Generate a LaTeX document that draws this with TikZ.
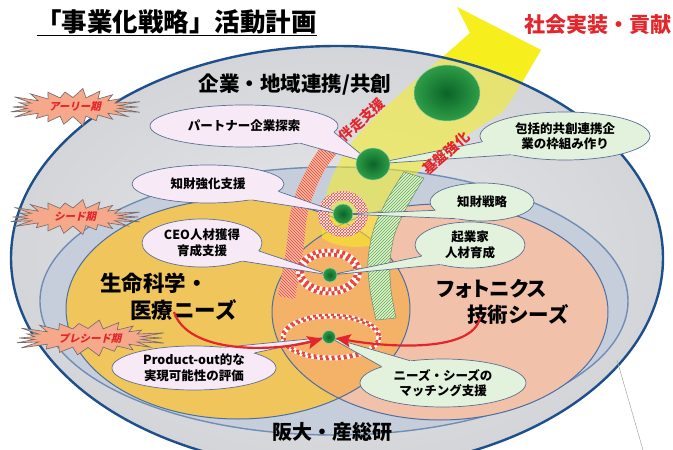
\documentclass[tikz,border=0pt]{standalone}
\usepackage{fontspec}
\setmainfont{Noto Sans CJK JP}
\newfontfamily\jpsl[FakeSlant=0.22]{Noto Sans CJK JP}
\newfontfamily\jppalt[RawFeature=+palt]{Noto Sans CJK JP}
\usetikzlibrary{shapes.geometric,patterns,calc,arrows.meta}
\definecolor{outerin}{HTML}{E7E8EB}
\definecolor{outerout}{HTML}{D3D5D9}
\definecolor{outerline}{HTML}{1C4F8C}
\definecolor{bandfill}{HTML}{C6CEDB}
\definecolor{bandline}{HTML}{6F8DB5}
\definecolor{lifefill}{HTML}{F0C65C}
\definecolor{photofill}{HTML}{F2C1AA}
\definecolor{overlapfill}{HTML}{F4B168}
\definecolor{ellline}{HTML}{4A6FA3}
\definecolor{arrowyellow}{HTML}{F7EE1E}
\definecolor{pinkfill}{HTML}{F7EAF6}
\definecolor{greenfill}{HTML}{E3F2DC}
\definecolor{bubline}{HTML}{5B6F96}
\definecolor{burstfill}{HTML}{F5A88A}
\definecolor{burstline}{HTML}{6E6A70}
\definecolor{redtext}{HTML}{E2262B}
\definecolor{ringred}{HTML}{E8473A}
\definecolor{dotgreen}{HTML}{2E9E48}
\definecolor{dotdark}{HTML}{0B6428}
\definecolor{dotline}{HTML}{9FD0A8}
\definecolor{stripred}{HTML}{F6B7A3}
\definecolor{hatchred}{HTML}{E24A36}
\definecolor{stripgreen}{HTML}{E1F2D2}
\definecolor{hatchgreen}{HTML}{5DAA48}
\definecolor{stripgline}{HTML}{6D8C70}
\newcommand{\calltail}[5]{% node, angle1, angle2, tip, fill colour
  \fill[#5] ($(#1.#2)!-4pt!(#4)$) -- (#4) -- ($(#1.#3)!-4pt!(#4)$) -- cycle;
  \draw[taildraw] (#1.#2) -- (#4) -- (#1.#3);
}
% starburst outline: cx, cy, outer rx, outer ry, inner rx, inner ry
\newcommand{\burstbg}[6]{%
  \filldraw[burstbg] ({#1+#3}, #2)
    \foreach \k in {0,...,21} {
      -- ({#1+(#5)*cos(\k*16.3636+8.1818)}, {#2+(#6)*sin(\k*16.3636+8.1818)})
      -- ({#1+(#3)*(0.86+0.07*mod(\k*7+3,4))*cos((\k+1)*16.3636)}, {#2+(#4)*(0.86+0.07*mod(\k*7+3,4))*sin((\k+1)*16.3636)})
    } -- cycle;
}
\def\yarrowpath{plot[smooth, tension=0.6] coordinates {(322,238) (324,205) (333,175) (350,145) (375,117) (410,85) (445,55) (470,33)} -- (457,7) -- (541,50) -- (514,96) -- plot[smooth, tension=0.6] coordinates {(503,112) (475,130) (445,150) (420,170) (403,195) (394,220) (390,238)} .. controls (372,250) and (340,250) .. (322,238) -- cycle}
\begin{document}
\begin{tikzpicture}[x=1pt,y=-1pt,
  bubpink/.style={ellipse, draw=bubline, line width=0.7pt, fill=pinkfill, inner sep=0pt, align=center, font=\fontsize{12.5}{15.5}\selectfont\bfseries},
  bubgreen/.style={bubpink, fill=greenfill},
  taildraw/.style={draw=bubline, line width=0.7pt},
  burstbg/.style={fill=burstfill, draw=burstline, line width=0.6pt, line join=miter},
  bursttext/.style={inner sep=0pt, text=redtext, font=\jpsl\bfseries\fontsize{10.5}{12}\selectfont},
  gdot/.style={circle, inner sep=0pt, inner color=dotdark, outer color=dotgreen, draw=dotline, line width=0.5pt},
  redarrow/.style={draw=redtext, line width=2.2pt, -{Stealth[length=15pt,width=13pt,inset=3pt]}},
  bigtext/.style={font=\fontsize{21.5}{24}\selectfont\bfseries, inner sep=0pt},
  alongtext/.style={text=redtext, font=\fontsize{14}{17}\selectfont\bfseries, inner sep=0pt},
]
\useasboundingbox (0,0) rectangle (673,450);
\fill[white] (0,0) rectangle (673,450);

% full yellow arrow (visible outside the big ellipse)
\fill[arrowyellow] \yarrowpath;

% outer ellipse
\shade[inner color=outerin, outer color=outerout] (337,258) ellipse [x radius=326, y radius=212];
% band
\fill[bandfill] (334,301) ellipse [x radius=294, y radius=134];
\draw[bandline, line width=1.4pt] (334,301) ellipse [x radius=294, y radius=134];
% inner ellipses
\fill[lifefill] (238,309) ellipse [x radius=172, y radius=110];
\fill[photofill] (440,312) ellipse [x radius=168, y radius=108];
\begin{scope}
  \clip (238,309) ellipse [x radius=172, y radius=110];
  \fill[overlapfill] (440,312) ellipse [x radius=168, y radius=108];
\end{scope}
\draw[ellline, line width=1pt] (238,309) ellipse [x radius=172, y radius=110];
\draw[ellline, line width=1pt] (440,312) ellipse [x radius=168, y radius=108];

% translucent arrow over the ellipses
\fill[arrowyellow, opacity=0.55] \yarrowpath;
% outer border
\draw[outerline, line width=2.4pt] (337,258) ellipse [x radius=326, y radius=212];
\coordinate (strayA) at (617,360);
\coordinate (strayB) at (643,450);
\draw[gray!70, line width=0.5pt] (strayA) -- (strayB);

% hatched strips
\path[preaction={fill=stripred}, pattern=north west lines, pattern color=hatchred]
  plot[smooth] coordinates {(325,140) (309,165) (297,190) (290,215) (286,250) (278,296)}
  -- plot[smooth] coordinates {(295,299) (303,252) (307,217) (314,193) (326,168) (342,147)} -- cycle;
\path[preaction={fill=stripgreen}, pattern=north east lines, pattern color=hatchgreen, draw=stripgline, line width=0.5pt]
  plot[smooth] coordinates {(404,172) (388,198) (374,228) (368,260) (370,290) (376,320)}
  -- plot[smooth] coordinates {(396,318) (391,290) (390,262) (395,233) (408,205) (424,178)} -- cycle;

% ring around IP dot
\path[fill=ringred, even odd rule] (343,214) ellipse [x radius=25, y radius=23] (343,214) circle [radius=14];
\path[pattern=crosshatch, pattern color=white, even odd rule] (343,214) ellipse [x radius=25, y radius=23] (343,214) circle [radius=14];
% checkered ring (middle)
\draw[white, line width=8pt] (329,272) ellipse [x radius=29, y radius=19.5];
\draw[ringred, line width=4pt, dash pattern=on 3pt off 3pt] (329,272) ellipse [x radius=31, y radius=21.5];
\draw[ringred, line width=4pt, dash pattern=on 3pt off 3pt, dash phase=3pt] (329,272) ellipse [x radius=27, y radius=17.5];
% dashed ring (bottom)
\draw[white, line width=5pt] (331,337) ellipse [x radius=48, y radius=21];
\draw[ringred, line width=2.5pt, dash pattern=on 3pt off 3pt] (331,337) ellipse [x radius=49.2, y radius=22.2];
\draw[ringred, line width=2.5pt, dash pattern=on 3pt off 3pt, dash phase=3pt] (331,337) ellipse [x radius=46.8, y radius=19.8];

% texts of regions
\node[font=\fontsize{25.5}{30}\selectfont\bfseries, inner sep=0pt, anchor=west] (title) at (36,22) {「事業化戦略」活動計画};
\draw[line width=1.6pt] ($(title.base west)+(1,4)$) -- ($(title.base east)+(0,4)$);
\node[font=\fontsize{21}{24}\selectfont\bfseries, text=redtext, inner sep=0pt] (impl) at (598,25) {社会実装・貢献};
\node[font=\fontsize{20.5}{24}\selectfont\bfseries, inner sep=0pt] (corp) at (295,85) {企業・地域連携/共創};
\node[font=\fontsize{20}{24}\selectfont\bfseries, inner sep=0pt] (univ) at (332,432) {阪大・産総研};
\node[bigtext, anchor=west] (life1) at (100,283) {生命科学・};
\node[bigtext, anchor=west] (life2) at (130,310) {医療ニーズ};
\node[bigtext, anchor=west, font=\jppalt\fontsize{20.5}{24}\selectfont\bfseries] (photo1) at (437,289) {フォトニクス};
\node[bigtext, anchor=west, font=\fontsize{20.5}{24}\selectfont\bfseries] (photo2) at (467,314) {技術シーズ};

% bubbles
\node[bubpink, minimum width=188pt, minimum height=42pt] (bPartner) at (244,126) {パートナー企業探索};
\node[bubpink, minimum width=152pt, minimum height=38pt] (bIPsup) at (208,184) {知財強化支援};
\node[bubpink, minimum width=120pt, minimum height=48pt] (bCEO) at (202,243) {CEO人材獲得\\育成支援};
\node[bubpink, minimum width=164pt, minimum height=44pt] (bProd) at (194,368) {Product-out的な\\実現可能性の評価};
\node[bubgreen, minimum width=170pt, minimum height=48pt] (bFrame) at (565,136) {包括的共創連携企\\業の枠組み作り};
\node[bubgreen, minimum width=104pt, minimum height=38pt] (bIPstr) at (482,202) {知財戦略};
\node[bubgreen, minimum width=110pt, minimum height=46pt] (bEnt) at (470,245) {起業家\\人材育成};
\node[bubgreen, minimum width=166pt, minimum height=48pt] (bMatch) at (443,383) {ニーズ・シーズの\\マッチング支援};

% dot positions
\coordinate (pBig) at (447,93);
\coordinate (pMed) at (373,164);
\coordinate (pIP) at (343,214);
\coordinate (pHR) at (330,275);
\coordinate (pBot) at (329,337);

% tails
\calltail{bPartner}{-4}{-17}{pMed}{pinkfill}
\calltail{bIPsup}{-6}{-20}{pIP}{pinkfill}
\calltail{bCEO}{-8}{-24}{pHR}{pinkfill}
\calltail{bProd}{14}{34}{pBot}{pinkfill}
\calltail{bFrame}{184}{199}{pMed}{greenfill}
\calltail{bIPstr}{190}{212}{pIP}{greenfill}
\calltail{bEnt}{193}{213}{pHR}{greenfill}
\calltail{bMatch}{146}{165}{pBot}{greenfill}

% green dots
\node[gdot, ellipse, minimum width=66pt, minimum height=56pt] (dBig) at (pBig) {};
\node[gdot, ellipse, minimum width=34pt, minimum height=32pt] (dMed) at (pMed) {};
\node[gdot, minimum size=20pt] (dIP) at (pIP) {};
\node[gdot, minimum size=14pt] (dHR) at (pHR) {};
\node[gdot, minimum size=13pt] (dBot) at (pBot) {};

% labels along the arrow
\node[alongtext, rotate=42] (lblRun) at (362,120) {伴走支援};
\node[alongtext, rotate=41] (lblBase) at (446,153) {基盤強化};

% red arrows
\coordinate (a1s) at (174,312);
\coordinate (a2s) at (480,318);
\draw[redarrow] (a1s) .. controls (188,354) and (272,352) .. (dBot);
\draw[redarrow] (a2s) .. controls (472,352) and (392,348) .. (dBot);

% starbursts
\burstbg{73}{107}{65}{17.5}{46}{9.5}
\node[bursttext] (sEarly) at (75,107) {アーリー期};
\burstbg{73}{217}{65}{16.5}{46}{9}
\node[bursttext] (sSeed) at (75,217) {シード期};
\burstbg{88}{338}{74}{17}{54}{9.5}
\node[bursttext] (sPre) at (90,338) {プレシード期};
\end{tikzpicture}
\end{document}
